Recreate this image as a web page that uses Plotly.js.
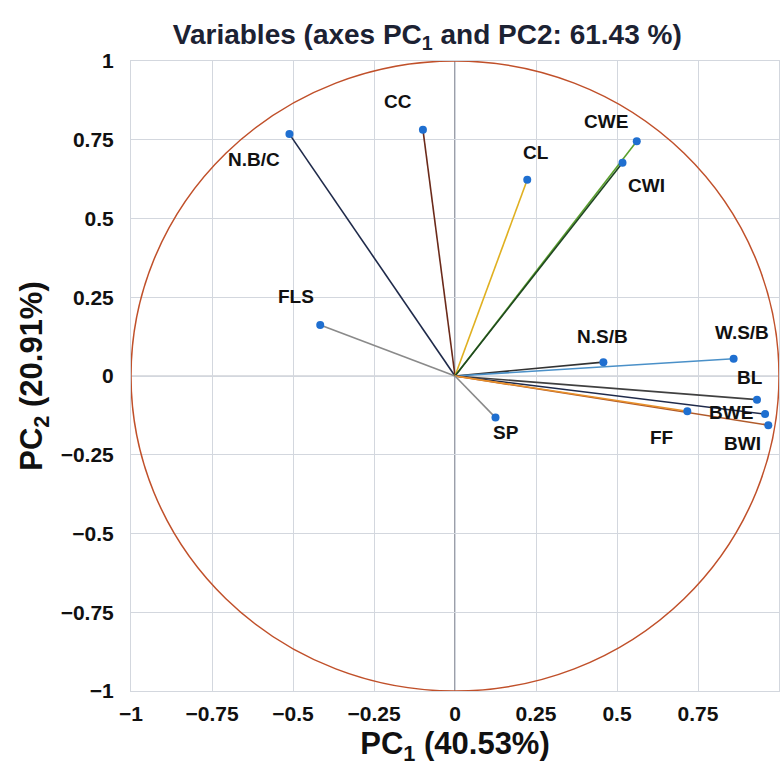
<!DOCTYPE html>
<html>
<head>
<meta charset="utf-8">
<script src="https://cdn.plot.ly/plotly-3.0.1.min.js"></script>
<style>html,body{margin:0;padding:0;background:#fff;}#chart{width:784px;height:778px;}</style>
</head>
<body>
<div id="chart"></div>
<script>
const variables = ["N.B/C","CC","FLS","CL","CWE","CWI","N.S/B","W.S/B","BL","BWE","BWI","FF","SP"];
const pc1 = [-0.511,-0.099,-0.416,0.223,0.561,0.517,0.458,0.860,0.932,0.957,0.967,0.717,0.125];
const pc2 = [0.768,0.782,0.162,0.623,0.745,0.677,0.044,0.055,-0.075,-0.121,-0.156,-0.112,-0.132];
const ticks = [-1,-0.75,-0.5,-0.25,0,0.25,0.5,0.75,1];
const tickText = ["\u22121","\u22120.75","\u22120.5","\u22120.25","0","0.25","0.5","0.75","1"];

// styling (not data)
const lineColors = ["#1f2a4a","#6b2a1a","#8a8a8a","#e0b020","#5aa02c","#1e4620","#333333","#4a90c8","#404040","#1f2a4a","#b05a2a","#e8902a","#8a8a8a"];
const labelDx = [-35,-25,-24,9,-31,24,-1,8,-7,-34,-26,-26,10];
const labelDy = [-25,28,28,27,20,-23,26,26,22,2,-18,-26,-15];

const FONT = "'Liberation Sans',Arial,sans-serif";
const traces = [];
variables.forEach((v,i)=>{
  traces.push({type:'scatter',mode:'lines',x:[0,pc1[i]],y:[0,pc2[i]],
    line:{color:lineColors[i],width:1.6},hoverinfo:'skip',showlegend:false});
});
traces.push({type:'scatter',mode:'markers',x:pc1,y:pc2,
  marker:{color:'#1f6fd0',size:8},showlegend:false,cliponaxis:false});

const annotations = variables.map((v,i)=>({
  x:pc1[i],y:pc2[i],xref:'x',yref:'y',text:'<b>'+v+'</b>',showarrow:false,
  xshift:labelDx[i],yshift:labelDy[i],xanchor:'center',yanchor:'middle',
  font:{family:FONT,size:19,color:'#111'}
}));

const layout = {
  width:784,height:778,
  margin:{l:131,r:5,t:61,b:87},
  paper_bgcolor:'#fff',plot_bgcolor:'#fff',
  title:{text:'<b>Variables (axes PC<sub>1</sub> and PC2: 61.43 %)</b>',
    font:{family:FONT,size:28,color:'#1c2233'},x:0.545,xanchor:'center',y:0.956,yanchor:'middle'},
  xaxis:{range:[-1,1],tickvals:ticks,ticktext:tickText,showgrid:true,gridcolor:'#d3d7de',gridwidth:1,
    zeroline:false,showline:true,mirror:true,linecolor:'#d3d7de',ticks:'',ticklabelstandoff:4,
    tickfont:{family:FONT,size:21,color:'#111',weight:'bold'},
    title:{text:'<b>PC<sub>1</sub> (40.53%)</b>',font:{family:FONT,size:31,color:'#111'},standoff:8}},
  yaxis:{range:[-1,1],tickvals:ticks,ticktext:tickText,showgrid:true,gridcolor:'#d3d7de',gridwidth:1,
    zeroline:false,showline:true,mirror:true,linecolor:'#d3d7de',ticks:'',ticklabelstandoff:12,
    tickfont:{family:FONT,size:21,color:'#111',weight:'bold'},
    title:{text:'<b>PC<sub>2</sub> (20.91%)</b>',font:{family:FONT,size:31,color:'#111'},standoff:8}},
  annotations:annotations,
  shapes:[
    {type:'line',xref:'x',yref:'y',x0:0,x1:0,y0:-1,y1:1,line:{color:'#5a6070',width:1.2},layer:'below'},
    {type:'line',xref:'x',yref:'y',x0:-1,x1:1,y0:0,y1:0,line:{color:'#b8bcc4',width:1},layer:'below'},
    {type:'circle',xref:'x',yref:'y',x0:-1,x1:1,y0:-1,y1:1,line:{color:'#c0502a',width:1.5}}
  ]
};
Plotly.newPlot('chart',traces,layout,{displayModeBar:false,staticPlot:true});
</script>
</body>
</html>
